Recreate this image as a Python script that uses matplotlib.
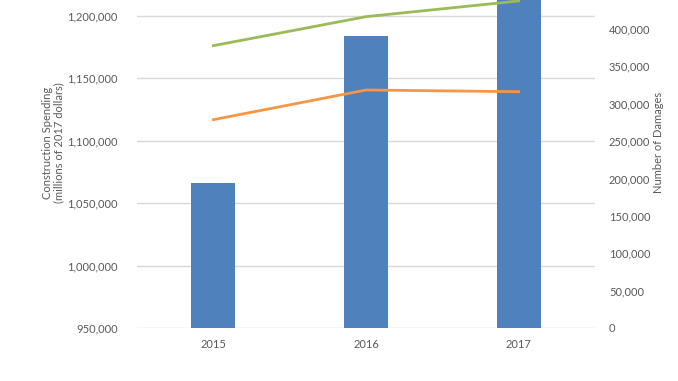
import matplotlib
matplotlib.use("Agg")
import matplotlib.pyplot as plt
from matplotlib.ticker import FuncFormatter, FixedLocator

years = ["2015", "2016", "2017"]
spending = [1066000, 1184000, 1240000]
damages_green = [377700, 416500, 437500]
damages_orange = [278700, 318400, 316100]

left_ticks = [950000, 1000000, 1050000, 1100000, 1150000, 1200000]
right_ticks = [0, 50000, 100000, 150000, 200000, 250000, 300000, 350000, 400000]

plt.rcParams['font.family'] = ['Lato', 'DejaVu Sans']
txt = '#595959'

fig = plt.figure(figsize=(6.78, 3.81), dpi=100)
ax = fig.add_axes([137/678, 1-328/381, (595-137)/678, 328/381])
ax2 = ax.twinx()

x = list(range(len(years)))
ax.bar(x, spending, width=0.29, color='#4F81BD', zorder=2, bottom=0)
ax.set_ylim(950000, 950000 + 328/62.4*50000)
ax.set_xlim(-0.5, 2.5)
ax.yaxis.set_major_locator(FixedLocator(left_ticks))
ax.yaxis.set_major_formatter(FuncFormatter(lambda v, p: f"{int(v):,}"))
ax.grid(axis='y', color='#d9d9d9', linewidth=1, zorder=0)
ax.set_axisbelow(True)
ax.set_xticks(x)
ax.set_xticklabels(years)
ax.tick_params(axis='both', length=0, labelsize=8, colors=txt)
ax.tick_params(axis='y', pad=14)
ax.tick_params(axis='x', pad=8)

ax2.plot(x, damages_green, color='#9BBB59', linewidth=2.0, zorder=3)
ax2.plot(x, damages_orange, color='#F79646', linewidth=2.0, zorder=3)
ax2.set_ylim(0, 328/299*400000)
ax2.yaxis.set_major_locator(FixedLocator(right_ticks))
ax2.yaxis.set_major_formatter(FuncFormatter(lambda v, p: f"{int(v):,}"))
ax2.tick_params(axis='y', length=0, labelsize=8, colors=txt, pad=10)

for a in (ax, ax2):
    for s in a.spines.values():
        s.set_visible(False)

fig.text(53/678, 1-143/381, "Construction Spending\n(millions of 2017 dollars)",
         rotation=90, ha='center', va='center', fontsize=8, color=txt, linespacing=1.1)
fig.text(658/678, 1-142/381, "Number of Damages", rotation=90,
         ha='center', va='center', fontsize=8, color=txt)

fig.savefig("out.png", dpi=100)
